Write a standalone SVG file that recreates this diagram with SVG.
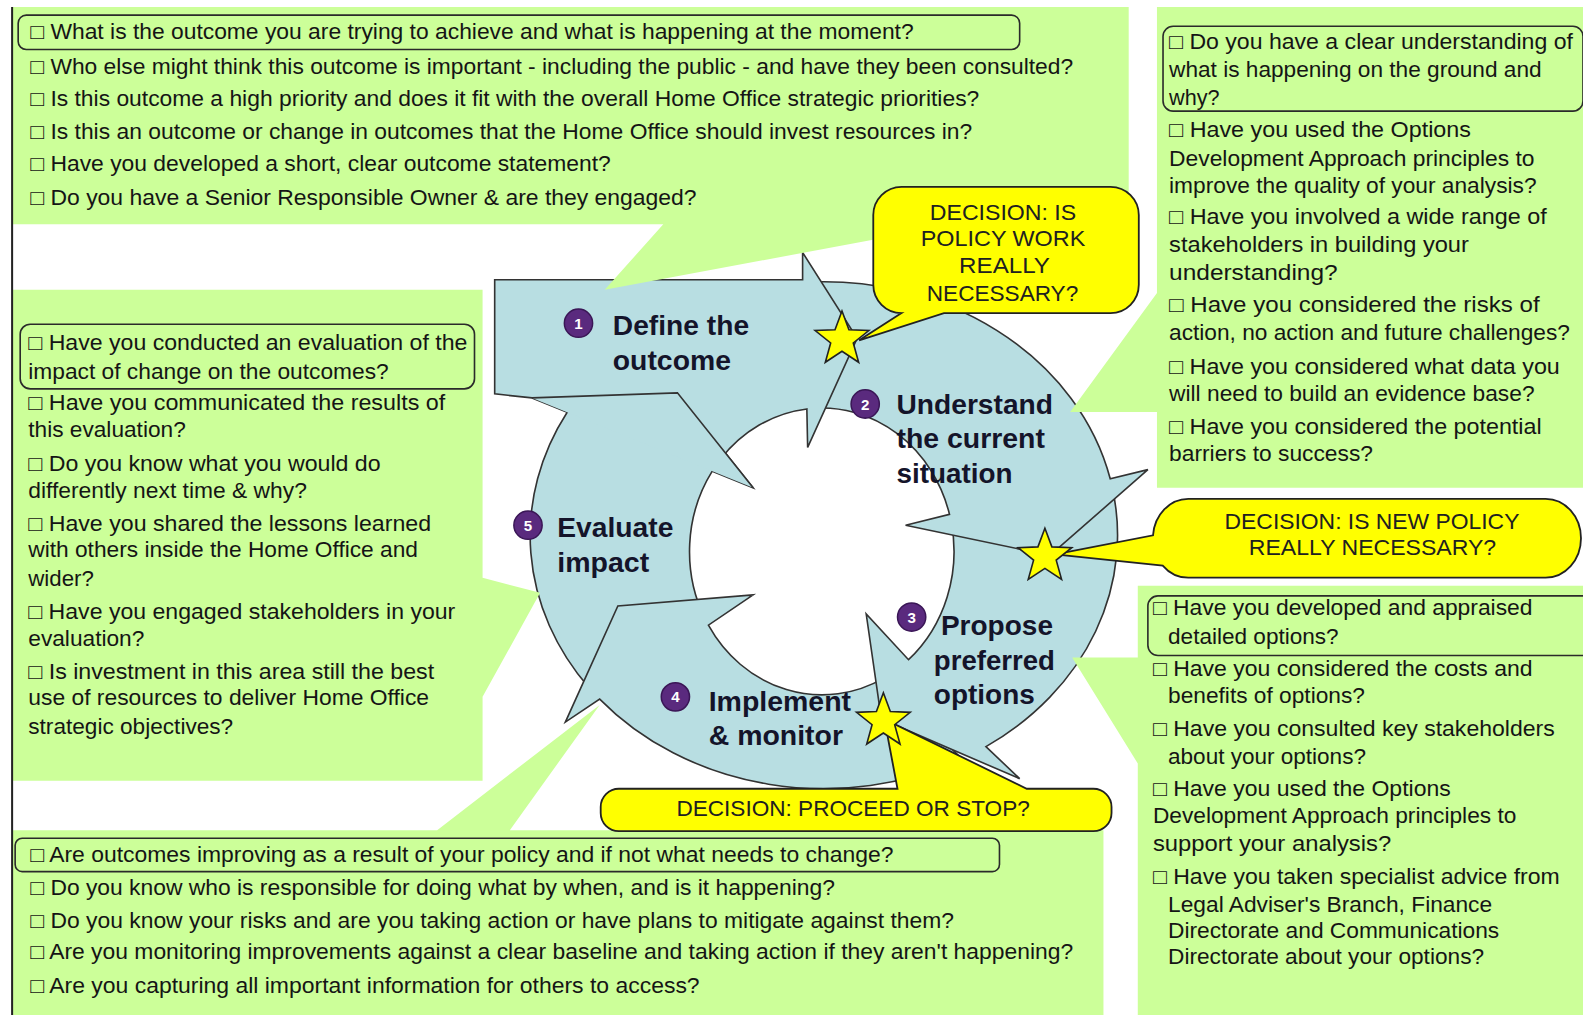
<svg xmlns="http://www.w3.org/2000/svg" xmlns:xlink="http://www.w3.org/1999/xlink" width="1583" height="1015" viewBox="0 0 1583 1015">
<style>
.t{font-family:'Liberation Sans',Arial,sans-serif;font-size:21px;fill:#151515}
.lab{font-family:'Liberation Sans',Arial,sans-serif;font-size:27px;font-weight:bold;fill:#14142a}
.dec{font-family:'Liberation Sans',Arial,sans-serif;font-size:22px;fill:#202020}
.num{font-family:'Liberation Sans',Arial,sans-serif;font-size:15px;font-weight:bold;fill:#ffffff;text-anchor:middle}
.green{fill:#ccff99}
.frame{fill:none;stroke:#2a2a2a;stroke-width:1.6}
.arc{fill:#b8dee2;stroke:#333;stroke-width:1.6;stroke-linejoin:miter}
.yel{fill:#ffff00;stroke:#222;stroke-width:1.8}
.dot{fill:#5a2a7e;stroke:#3a1656;stroke-width:1.5}
</style>
<defs>
<path id="star" d="M0,-28 L6.9,-9.5 L26.6,-8.7 L11.2,3.6 L16.5,22.7 L0,11.8 L-16.5,22.7 L-11.2,3.6 L-26.6,-8.7 L-6.9,-9.5 Z" fill="#ffff00" stroke="#222" stroke-width="1.6"/>
</defs>
<rect width="1583" height="1015" fill="#ffffff"/>
<g transform="scale(1.00957,1.00995)">

<g id="cycle">
<path id="step5" class="arc" d="M583.6,681.1 A291,251 0 0 1 561.8,408.2 L527,394 L671,389 L746,483 L705.5,466.5 A131,142 0 0 0 698.3,612.7 Z"/>
<path id="step4" class="arc" d="M952.6,751.6 A291,251 0 0 1 594,692.2 L560,715 L612,600 L746,589 L701.7,619 A131,142 0 0 0 875.5,671.4 Z"/>
<path id="step3" class="arc" d="M1100.6,477.8 A291,251 0 0 1 976.6,739.3 L1010,771 L873,712 L858,608 L899.9,653.2 A131,142 0 0 0 942.1,516.5 Z"/>
<path id="step2" class="arc" d="M790.6,280 A291,251 0 0 1 1099.7,474 L1137,465 L1040,550 L897,520 L940.5,509.3 A131,142 0 0 0 802.6,404.5 Z"/>
<path id="step1" class="arc" d="M490,277 H795 V250 L849,335 L800,443 L799.2,404.9 A131,142 0 0 0 713.6,454.7 L600,398 L527,394 L490,390 Z"/>
<path class="arc" d="M527,394 L671,389 L746,483"/>
</g>

<g id="node-top">
<path class="green" d="M12,7 H1118 V222 H947 L599,287 L657,222 H12 Z"/>
<rect class="frame" x="18" y="15" width="992" height="34" rx="8"/>
<text class="t" x="30" y="39" textLength="875" lengthAdjust="spacingAndGlyphs">□ What is the outcome you are trying to achieve and what is happening at the moment?</text>
<text class="t" x="30" y="73" textLength="1033" lengthAdjust="spacingAndGlyphs">□ Who else might think this outcome is important - including the public - and have they been consulted?</text>
<text class="t" x="30" y="105" textLength="940" lengthAdjust="spacingAndGlyphs">□ Is this outcome a high priority and does it fit with the overall Home Office strategic priorities?</text>
<text class="t" x="30" y="138" textLength="933" lengthAdjust="spacingAndGlyphs">□ Is this an outcome or change in outcomes that the Home Office should invest resources in?</text>
<text class="t" x="30" y="169" textLength="575" lengthAdjust="spacingAndGlyphs">□ Have you developed a short, clear outcome statement?</text>
<text class="t" x="30" y="203" textLength="660" lengthAdjust="spacingAndGlyphs">□ Do you have a Senior Responsible Owner &amp; are they engaged?</text>
</g>

<g id="node-understand">
<path class="green" d="M1146,7 H1570 V483 H1146 V408 H1060 L1146,290 Z"/>
<rect class="frame" x="1152" y="26" width="416" height="84" rx="10"/>
<text class="t" x="1158" y="49" textLength="400" lengthAdjust="spacingAndGlyphs">□ Do you have a clear understanding of</text>
<text class="t" x="1158" y="76" textLength="369" lengthAdjust="spacingAndGlyphs">what is happening on the ground and</text>
<text class="t" x="1158" y="104" textLength="50" lengthAdjust="spacingAndGlyphs">why?</text>
<text class="t" x="1158" y="136" textLength="299" lengthAdjust="spacingAndGlyphs">□ Have you used the Options</text>
<text class="t" x="1158" y="164" textLength="362" lengthAdjust="spacingAndGlyphs">Development Approach principles to</text>
<text class="t" x="1158" y="191" textLength="364" lengthAdjust="spacingAndGlyphs">improve the quality of your analysis?</text>
<text class="t" x="1158" y="222" textLength="374" lengthAdjust="spacingAndGlyphs">□ Have you involved a wide range of</text>
<text class="t" x="1158" y="250" textLength="297" lengthAdjust="spacingAndGlyphs">stakeholders in building your</text>
<text class="t" x="1158" y="277" textLength="167" lengthAdjust="spacingAndGlyphs">understanding?</text>
<text class="t" x="1158" y="309" textLength="367" lengthAdjust="spacingAndGlyphs">□ Have you considered the risks of</text>
<text class="t" x="1158" y="337" textLength="397" lengthAdjust="spacingAndGlyphs">action, no action and future challenges?</text>
<text class="t" x="1158" y="370" textLength="387" lengthAdjust="spacingAndGlyphs">□ Have you considered what data you</text>
<text class="t" x="1158" y="397" textLength="362" lengthAdjust="spacingAndGlyphs">will need to build an evidence base?</text>
<text class="t" x="1158" y="430" textLength="369" lengthAdjust="spacingAndGlyphs">□ Have you considered the potential</text>
<text class="t" x="1158" y="456" textLength="202" lengthAdjust="spacingAndGlyphs">barriers to success?</text>
</g>

<g id="node-propose">
<path class="green" d="M1127,580 H1570 V1005 H1127 V756 L1062,651 H1127 Z"/>
<rect class="frame" x="1137" y="590" width="440" height="59" rx="10"/>
<text class="t" x="1142" y="609" textLength="376" lengthAdjust="spacingAndGlyphs">□ Have you developed and appraised</text>
<text class="t" x="1157" y="638" textLength="169" lengthAdjust="spacingAndGlyphs">detailed options?</text>
<text class="t" x="1142" y="669" textLength="376" lengthAdjust="spacingAndGlyphs">□ Have you considered the costs and</text>
<text class="t" x="1157" y="696" textLength="195" lengthAdjust="spacingAndGlyphs">benefits of options?</text>
<text class="t" x="1142" y="729" textLength="398" lengthAdjust="spacingAndGlyphs">□ Have you consulted key stakeholders</text>
<text class="t" x="1157" y="756" textLength="196" lengthAdjust="spacingAndGlyphs">about your options?</text>
<text class="t" x="1142" y="788" textLength="295" lengthAdjust="spacingAndGlyphs">□ Have you used the Options</text>
<text class="t" x="1142" y="815" textLength="360" lengthAdjust="spacingAndGlyphs">Development Approach principles to</text>
<text class="t" x="1142" y="843" textLength="236" lengthAdjust="spacingAndGlyphs">support your analysis?</text>
<text class="t" x="1142" y="875" textLength="403" lengthAdjust="spacingAndGlyphs">□ Have you taken specialist advice from</text>
<text class="t" x="1157" y="903" textLength="321" lengthAdjust="spacingAndGlyphs">Legal Adviser's Branch, Finance</text>
<text class="t" x="1157" y="929" textLength="328" lengthAdjust="spacingAndGlyphs">Directorate and Communications</text>
<text class="t" x="1157" y="955" textLength="313" lengthAdjust="spacingAndGlyphs">Directorate about your options?</text>
</g>

<g id="node-evaluate">
<path class="green" d="M12,287 H478 V572 L535,587 L478,690 V773 H12 Z"/>
<rect class="frame" x="20" y="321" width="450" height="64" rx="10"/>
<text class="t" x="28" y="347" textLength="435" lengthAdjust="spacingAndGlyphs">□ Have you conducted an evaluation of the</text>
<text class="t" x="28" y="375" textLength="357" lengthAdjust="spacingAndGlyphs">impact of change on the outcomes?</text>
<text class="t" x="28" y="406" textLength="413" lengthAdjust="spacingAndGlyphs">□ Have you communicated the results of</text>
<text class="t" x="28" y="433" textLength="156" lengthAdjust="spacingAndGlyphs">this evaluation?</text>
<text class="t" x="28" y="466" textLength="349" lengthAdjust="spacingAndGlyphs">□ Do you know what you would do</text>
<text class="t" x="28" y="493" textLength="276" lengthAdjust="spacingAndGlyphs">differently next time &amp; why?</text>
<text class="t" x="28" y="526" textLength="399" lengthAdjust="spacingAndGlyphs">□ Have you shared the lessons learned</text>
<text class="t" x="28" y="552" textLength="386" lengthAdjust="spacingAndGlyphs">with others inside the Home Office and</text>
<text class="t" x="28" y="580" textLength="65" lengthAdjust="spacingAndGlyphs">wider?</text>
<text class="t" x="28" y="613" textLength="423" lengthAdjust="spacingAndGlyphs">□ Have you engaged stakeholders in your</text>
<text class="t" x="28" y="640" textLength="115" lengthAdjust="spacingAndGlyphs">evaluation?</text>
<text class="t" x="28" y="672" textLength="402" lengthAdjust="spacingAndGlyphs">□ Is investment in this area still the best</text>
<text class="t" x="28" y="698" textLength="397" lengthAdjust="spacingAndGlyphs">use of resources to deliver Home Office</text>
<text class="t" x="28" y="727" textLength="203" lengthAdjust="spacingAndGlyphs">strategic objectives?</text>
</g>

<g id="node-implement">
<path class="green" d="M12,822 H433 L594,698 L505,822 H1093 V1005 H12 Z"/>
<rect class="frame" x="15" y="830" width="975" height="33" rx="7"/>
<text class="t" x="30" y="854" textLength="855" lengthAdjust="spacingAndGlyphs">□ Are outcomes improving as a result of your policy and if not what needs to change?</text>
<text class="t" x="30" y="886" textLength="797" lengthAdjust="spacingAndGlyphs">□ Do you know who is responsible for doing what by when, and is it happening?</text>
<text class="t" x="30" y="919" textLength="915" lengthAdjust="spacingAndGlyphs">□ Do you know your risks and are you taking action or have plans to mitigate against them?</text>
<text class="t" x="30" y="950" textLength="1033" lengthAdjust="spacingAndGlyphs">□ Are you monitoring improvements against a clear baseline and taking action if they aren't happening?</text>
<text class="t" x="30" y="983" textLength="663" lengthAdjust="spacingAndGlyphs">□ Are you capturing all important information for others to access?</text>
</g>

<line x1="12" y1="7" x2="12" y2="1005" stroke="#222" stroke-width="2"/>

<g id="labels">
<circle class="dot" cx="573" cy="320" r="14"/><text class="num" x="573" y="325.5">1</text>
<text class="lab" x="607" y="332" textLength="135" lengthAdjust="spacingAndGlyphs">Define the</text>
<text class="lab" x="607" y="366" textLength="117" lengthAdjust="spacingAndGlyphs">outcome</text>
<circle class="dot" cx="857" cy="400" r="14"/><text class="num" x="857" y="405.5">2</text>
<text class="lab" x="888" y="410" textLength="155" lengthAdjust="spacingAndGlyphs">Understand</text>
<text class="lab" x="888" y="444" textLength="147" lengthAdjust="spacingAndGlyphs">the current</text>
<text class="lab" x="888" y="478" textLength="115" lengthAdjust="spacingAndGlyphs">situation</text>
<circle class="dot" cx="903" cy="611" r="14"/><text class="num" x="903" y="616.5">3</text>
<text class="lab" x="932" y="629" textLength="111" lengthAdjust="spacingAndGlyphs">Propose</text>
<text class="lab" x="925" y="663" textLength="120" lengthAdjust="spacingAndGlyphs">preferred</text>
<text class="lab" x="925" y="697" textLength="100" lengthAdjust="spacingAndGlyphs">options</text>
<circle class="dot" cx="669" cy="690" r="14"/><text class="num" x="669" y="695.5">4</text>
<text class="lab" x="702" y="704" textLength="141" lengthAdjust="spacingAndGlyphs">Implement</text>
<text class="lab" x="702" y="738" textLength="133" lengthAdjust="spacingAndGlyphs">&amp; monitor</text>
<circle class="dot" cx="523" cy="520" r="14"/><text class="num" x="523" y="525.5">5</text>
<text class="lab" x="552" y="532" textLength="115" lengthAdjust="spacingAndGlyphs">Evaluate</text>
<text class="lab" x="552" y="566" textLength="91" lengthAdjust="spacingAndGlyphs">impact</text>
</g>

<g id="decision-1">
<path class="yel" d="M893,310 L851,337 L935,310 H1100 A28,28 0 0 0 1128,282 V213 A28,28 0 0 0 1100,185 H893 A28,28 0 0 0 865,213 V282 A28,28 0 0 0 893,310 Z"/>
<text class="dec" x="921" y="218" textLength="145" lengthAdjust="spacingAndGlyphs">DECISION: IS</text>
<text class="dec" x="912" y="244" textLength="163" lengthAdjust="spacingAndGlyphs">POLICY WORK</text>
<text class="dec" x="950" y="270" textLength="90" lengthAdjust="spacingAndGlyphs">REALLY</text>
<text class="dec" x="918" y="298" textLength="150" lengthAdjust="spacingAndGlyphs">NECESSARY?</text>
</g>

<g id="decision-2">
<path class="yel" d="M1177,494 H1531 A35,39 0 0 1 1531,572 H1177 A35,39 0 0 1 1151.7,560 L1045,549 L1142.1,530 A35,39 0 0 1 1177,494 Z"/>
<text class="dec" x="1213" y="524" textLength="292" lengthAdjust="spacingAndGlyphs">DECISION: IS NEW POLICY</text>
<text class="dec" x="1237" y="550" textLength="245" lengthAdjust="spacingAndGlyphs">REALLY NECESSARY?</text>
</g>

<g id="decision-3">
<path class="yel" d="M613,781 H889 L876,712 L1017,781 H1083 A18,18 0 0 1 1101,799 V805 A18,18 0 0 1 1083,823 H613 A18,18 0 0 1 595,805 V799 A18,18 0 0 1 613,781 Z"/>
<text class="dec" x="670" y="808" textLength="350" lengthAdjust="spacingAndGlyphs">DECISION: PROCEED OR STOP?</text>
</g>

<g id="stars">
<use xlink:href="#star" href="#star" x="834" y="336"/>
<use xlink:href="#star" href="#star" x="1035" y="551"/>
<use xlink:href="#star" href="#star" x="875" y="714"/>
</g>

</g>
</svg>
